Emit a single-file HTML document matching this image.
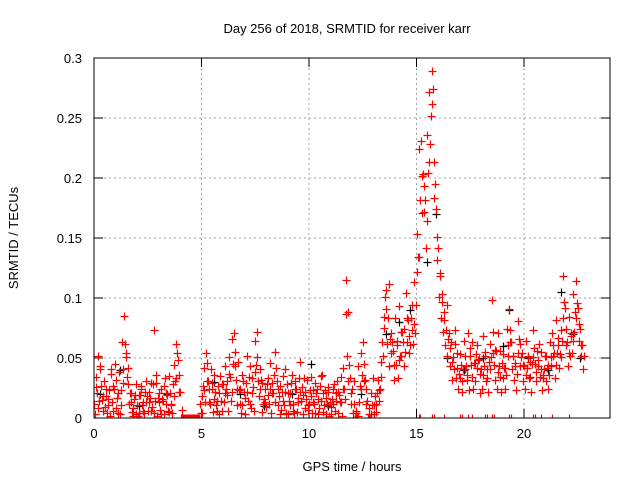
<!DOCTYPE html>
<html><head><meta charset="utf-8"><style>
body{margin:0;background:#fff;}
svg text{font-family:"Liberation Sans",sans-serif;font-size:13px;fill:#000;}
</style></head><body>
<svg id="chart" width="640" height="480">
<text x="347" y="33" text-anchor="middle">Day 256 of 2018, SRMTID for receiver karr</text>
<text x="352" y="471" text-anchor="middle">GPS time / hours</text>
<text transform="translate(18,238) rotate(-90)" text-anchor="middle">SRMTID / TECUs</text>
<g id="grid"></g><g id="axes"></g>
<defs><clipPath id="pc"><rect x="94" y="58" width="516" height="360"/></clipPath></defs>
<g id="marks" clip-path="url(#pc)"></g>
<rect x="94" y="58" width="516" height="360" fill="none" stroke="#000" stroke-width="1"/>
</svg>
<script>
const xTicks=[0,5,10,15,20];
const yTicks=[0,0.05,0.1,0.15,0.2,0.25,0.3];
const yTickLabels=["0","0.05","0.1","0.15","0.2","0.25","0.3"];
const redA=[.012,.034,.052,.043,.018,.009,.004,.023,.041,.027,
.008,.021,.003,.063,.085,.054,.028,.013,.002,.019,
.011,.004,.024,.013,.031,.006,.017,.009,.073,.029,
.021,.003,.014,.033,.019,.005,.012,.044,.062,.048,
.022,0,0,0,0,0,0,0,0,0,
.018,.042,.054,.031,.012,.024,.036,.006,.021,.014,
.028,.043,.019,.051,.066,.071,.032,.047,.024,.011,
.017,.052,.034,.008,.026,.064,.072,.041,.029,.016,
.009,.033,.046,.021,.055,.031,.018,.007,.035,.041,
.021,.011,.036,.004,.024,.013,.047,.019,.008,.032,
.012,.034,.023,.004,.016,.027,.036,.011,.003,.022,
.009,.024,.006,.031,.019,.013,.042,.115,.088,.033,
.024,.012,.004,.043,.054,.063,.032,.014,.003,.021,
.011,.005,.032,.024,.063,.084,.107,.112,.071,.056,
.083,.064,.093,.052,.074,.104,.082,.061,.094,.113,
.153,.224,.231,.203,.182,.236,.272,.289,.213,.174,
.142,.118,.103,.082,.094,.071,.063,.051,.073,.042,
.053,.031,.064,.043,.071,.052,.034,.046,.061,.049,
.041,.068,.052,.033,.062,.098,.044,.056,.071,.034,
.053,.042,.074,.091,.063,.052,.043,.081,.062,.054,
.043,.064,.052,.034,.073,.045,.056,.062,.041,.033,
.052,.044,.063,.071,.054,.082,.061,.073,.118,.092,
.063,.084,.071,.103,.114,.092,.074,.061];
const redB=[.003,.021,.014,.027,.006,.018,.011,.002,.013,.024,
.032,.004,.023,.041,.062,.034,.012,.021,.008,.003,
.002,.019,.011,.004,.013,.022,.006,.028,.014,.002,
.013,.024,.003,.012,.006,.021,.004,.018,.033,.022,
0,0,0,0,0,0,0,0,0,.012,
.004,.023,.031,.013,.041,.005,.022,.014,.003,.028,
.013,.024,.006,.034,.022,.043,.011,.023,.004,.031,
.003,.022,.012,.033,.006,.044,.031,.024,.005,.013,
.028,.012,.004,.021,.013,.024,.003,.022,.011,.004,
.003,.021,.012,.024,.005,.033,.014,.003,.022,.011,
.023,.004,.012,.021,.003,.014,.005,.023,.012,.002,
.003,.012,.021,.004,.013,.002,.024,.087,.031,.012,
.004,0,0,.013,.024,.031,.012,0,0,.011,
.003,.012,.023,.034,.052,.101,.062,.043,.054,.032,
.044,.033,.052,.072,.043,.063,.054,.083,.062,.071,
.122,.134,.171,.193,.142,.204,.228,.262,.183,.132,
.101,.083,.072,.061,.052,.043,.032,.041,.033,.024,
.033,.022,.041,.032,.023,.044,.024,.031,.042,.021,
.024,.043,.031,.022,.041,.054,.032,.024,.043,.022,
.033,.024,.052,.063,.041,.032,.023,.054,.043,.031,
.024,.042,.033,.022,.051,.031,.043,.034,.023,.041,
.031,.024,.043,.052,.033,.054,.042,.051,.083,.061,
.043,.052,.054,.072,.083,.064,.052,.041];
const redC=[.026,.008,.041,.015,.031,.024,.016,.037,.006,.045,
.017,.038,.011,.029,.051,.042,.021,.005,.016,.028,
.019,.027,.006,.022,.018,.013,.029,.004,.036,.017,
.007,.016,.027,.021,.035,.011,.028,.031,.054,.036,
.007,0,0,0,0,0,0,0,0,.004,
.027,.013,.046,.024,.029,.016,.011,.027,.035,.006,
.021,.031,.037,.014,.045,.055,.024,.012,.036,.022,
.029,.014,.043,.021,.038,.051,.018,.032,.012,.024,
.019,.024,.029,.036,.042,.011,.027,.014,.022,.028,
.014,.029,.006,.031,.017,.022,.026,.033,.016,.007,
.018,.013,.029,.024,.008,.035,.021,.017,.026,.013,
.016,.028,.014,.022,.034,.024,.016,.052,.044,.021,
.031,.006,.002,.027,.036,.045,.024,.008,.003,.033,
.018,.021,.014,.047,.075,.091,.083,.066,.063,.044,
.061,.048,.072,.063,.055,.083,.068,.073,.078,.094,
.134,.182,.202,.172,.164,.213,.252,.274,.195,.151,
.121,.097,.088,.073,.066,.058,.047,.062,.054,.037,
.044,.041,.052,.036,.058,.063,.046,.053,.048,.037,
.036,.055,.041,.047,.051,.072,.057,.038,.056,.046,
.042,.036,.061,.073,.052,.046,.037,.066,.051,.044,
.036,.051,.047,.045,.058,.038,.048,.055,.036,.052,
.042,.036,.051,.061,.044,.067,.053,.064,.097,.074,
.054,.068,.064,.088,.096,.078,.061,.052];
const redZeroTimes=[15.1,15.15,15.7,15.8,16.3,17.0,17.1,17.4,17.6,18.2,18.3,18.5,18.6,19.3,19.4,20.4,20.5,20.8,21.3,22.1];
const blackX=[0.3,1.2,2.1,3.4,4.9,5.6,6.8,7.9,9.2,10.1,10.9,12.4,13.6,14.2,14.7,15.5,15.9,16.4,17.2,18.1,19.0,19.3,20.2,21.1,21.7,22.3,22.6];
const blackY=[0.02,0.04,0.01,0.02,0.0,0.03,0.02,0.01,0.02,0.045,0.01,0.02,0.07,0.08,0.09,0.13,0.17,0.05,0.04,0.05,0.06,0.09,0.05,0.04,0.105,0.07,0.05];
const X=t=>94+t*516/24, Y=v=>418-v*1200;
const NS="http://www.w3.org/2000/svg";
const grid=document.getElementById('grid'),axes=document.getElementById('axes'),marks=document.getElementById('marks');
function mk(tag,attrs,parent){const e=document.createElementNS(NS,tag);for(const k in attrs)e.setAttribute(k,attrs[k]);parent.appendChild(e);return e;}
xTicks.forEach(t=>{
  if(t>0){const g=mk('line',{x1:X(t),x2:X(t),y1:58,y2:418,stroke:'#a0a0a0','stroke-dasharray':'2,3'},grid);
  
  }
  mk('line',{x1:X(t),x2:X(t),y1:418,y2:409,stroke:'#000'},axes);
  mk('line',{x1:X(t),x2:X(t),y1:58,y2:67,stroke:'#000'},axes);
  const l=mk('text',{x:X(t),y:438,'text-anchor':'middle'},axes);l.textContent=t;
  
  
});
yTicks.forEach((v,i)=>{
  if(i>0&&i<yTicks.length-1){const g=mk('line',{x1:94,x2:610,y1:Y(v),y2:Y(v),stroke:'#a0a0a0','stroke-dasharray':'2,3'},grid);
  
  }
  mk('line',{x1:94,x2:103,y1:Y(v),y2:Y(v),stroke:'#000'},axes);
  mk('line',{x1:601,x2:610,y1:Y(v),y2:Y(v),stroke:'#000'},axes);
  const l=mk('text',{x:82,y:Y(v)+5,'text-anchor':'end'},axes);l.textContent=yTickLabels[i];
  
  
});
function plus(t,v,col,name){
  const x=Math.round(X(t))+0.5,y=Math.round(Y(v))+0.5;
  const p=mk('path',{d:`M${x-4},${y}h8M${x},${y-4}v8`,stroke:col,'stroke-width':1.2,fill:'none'},marks);
  
  
}
blackX.forEach((t,i)=>plus(t,blackY[i],'#000','black-point'));
redA.forEach((v,i)=>{const t=i/10;plus(t,v,'#f00','red-point');plus(t+0.035,redB[i],'#f00','red-point');plus(t+0.07,redC[i],'#f00','red-point');});
redZeroTimes.forEach(t=>plus(t,0,'#f00','red-zero-point'));
</script>
</body></html>
